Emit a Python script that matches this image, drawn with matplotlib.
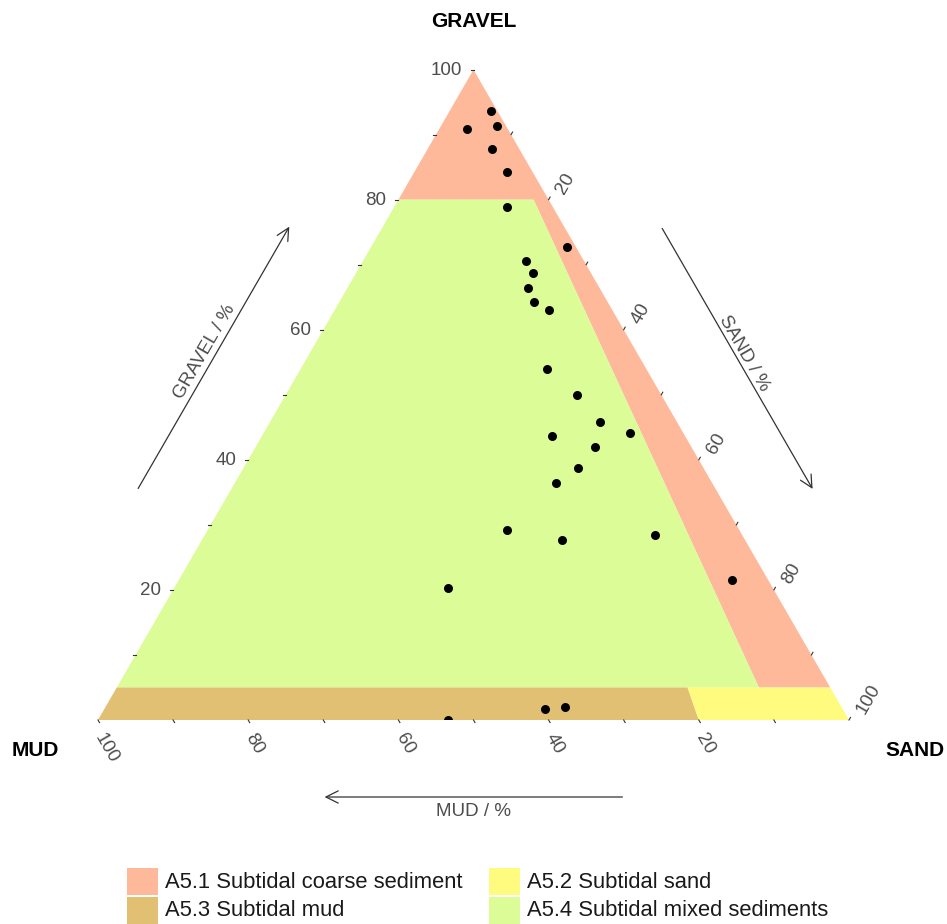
import numpy as np
import matplotlib
matplotlib.use("Agg")
import matplotlib.pyplot as plt
from matplotlib.patches import Polygon, Rectangle

plt.rcParams['font.family'] = ['Liberation Sans', 'DejaVu Sans']

# sample composition (%)
gravel = [93.7, 90.8, 91.3, 87.8, 84.2, 78.8, 72.7, 70.5, 68.7, 66.4, 64.2, 63.0, 54.0, 49.9,
          45.8, 43.7, 44.2, 41.9, 38.7, 36.4, 29.2, 27.7, 28.5, 20.3, 21.6, 0.0, 1.7, 2.0]
sand = [5.5, 3.8, 7.5, 8.6, 12.4, 15.1, 26.1, 21.7, 23.6, 24.0, 25.9, 28.5, 32.8, 38.8,
        44.0, 38.6, 48.7, 45.2, 44.6, 42.8, 39.9, 47.9, 59.9, 36.4, 73.6, 46.6, 58.7, 61.2]
mud = [100 - g - s for g, s in zip(gravel, sand)]

# class boundaries
gravel_coarse = 80     # above: coarse sediment
gravel_min = 5         # below: sand / mud
mud_ratio_coarse = 0.1 # mud share of (mud+sand) for coarse band
mud_ratio_sand = 0.2   # mud share of (mud+sand) splitting sand / mud

classes = ["A5.1 Subtidal coarse sediment", "A5.2 Subtidal sand",
           "A5.3 Subtidal mud", "A5.4 Subtidal mixed sediments"]
colours = ["#FEB99A", "#FEFB7F", "#E2C073", "#DBFC97"]

H = np.sqrt(3) / 2
PX = 751.0  # pixels per triangle side


def tern(g, s, m):
    g = np.asarray(g, float); s = np.asarray(s, float); m = np.asarray(m, float)
    tot = g + s + m
    return s / tot + 0.5 * g / tot, H * g / tot


def split(g, ratio):
    # point with given gravel and mud:(mud+sand) ratio
    rest = 100 - g
    return (g, rest * (1 - ratio), rest * ratio)


fig = plt.figure(figsize=(9.47, 9.24), dpi=100)
ax = fig.add_axes([0, 0, 1, 1])
ax.set_xlim(-98 / PX, (947 - 98) / PX)
ax.set_ylim(-204 / PX, 720 / PX)
ax.axis('off')

regions = {
    0: [(100, 0, 0), split(gravel_coarse, 1), split(gravel_coarse, mud_ratio_coarse),
        split(gravel_min, mud_ratio_coarse), split(gravel_min, 0)],
    3: [split(gravel_coarse, 1), split(gravel_coarse, mud_ratio_coarse),
        split(gravel_min, mud_ratio_coarse), split(gravel_min, 1)],
    2: [split(gravel_min, 1), split(gravel_min, mud_ratio_sand),
        split(0, mud_ratio_sand), (0, 0, 100)],
    1: [split(gravel_min, mud_ratio_sand), split(gravel_min, 0),
        (0, 100, 0), split(0, mud_ratio_sand)],
}
for k, pts in regions.items():
    g, s, m = zip(*pts)
    x, y = tern(g, s, m)
    ax.add_patch(Polygon(np.column_stack([x, y]), closed=True, fc=colours[k], ec='none'))

# points, clipped to triangle
tx, ty = tern([100, 0, 0], [0, 100, 0], [0, 0, 100])
tri = Polygon(np.column_stack([tx, ty]), closed=True, fc='none', ec='none')
ax.add_patch(tri)
x, y = tern(gravel, sand, mud)
sc = ax.scatter(x, y, s=42, c='black', zorder=5, linewidths=0)
sc.set_clip_path(tri)

# ticks and tick labels
tick_col = '#333333'
lab_col = '#4D4D4D'
tl = 3 / PX
for v in range(10, 101, 10):
    # gravel (left edge)
    x0, y0 = tern(v, 0, 100 - v)
    ax.plot([x0, x0 - tl], [y0, y0], color=tick_col, lw=0.8)
    # sand (right edge)
    x1, y1 = tern(100 - v, v, 0)
    ax.plot([x1, x1 + tl * 0.5], [y1, y1 + tl * H], color=tick_col, lw=0.8)
    # mud (bottom edge)
    x2, y2 = tern(0, 100 - v, v)
    ax.plot([x2, x2 + tl * 0.5], [y2, y2 - tl * H], color=tick_col, lw=0.8)
    if v % 20 == 0:
        ax.text(x0 - 12 / PX, y0 - 1 / PX, str(v), ha='right', va='center',
                fontsize=13.5, color=lab_col)
        ax.text(x1 + 12 / PX, y1 + 7 / PX, str(v), ha='left', va='center',
                rotation=60, rotation_mode='anchor', fontsize=13.5, color=lab_col)
        ax.text(x2 + 1 / PX, y2 - 15 / PX, str(v), ha='left', va='center',
                rotation=-60, rotation_mode='anchor', fontsize=13.5, color=lab_col)

# vertex labels
ax.text(0.5, H + 48 / PX, "GRAVEL", ha='center', va='center', fontsize=15,
        fontweight='bold')
ax.text(-63 / PX, -30 / PX, "MUD", ha='center', va='center', fontsize=15,
        fontweight='bold')
ax.text(1 + 66 / PX, -30 / PX, "SAND", ha='center', va='center', fontsize=15,
        fontweight='bold')

# axis arrows
arr = dict(arrowstyle='->', color='#333333', lw=0.9, mutation_scale=22)
# gravel: along left edge, outward
nl = np.array([-H, 0.5])
a0 = np.array(tern(29, 0, 71)) + nl * 81 / PX
a1 = np.array(tern(70, 0, 30)) + nl * 81 / PX
ax.annotate("", xy=a1, xytext=a0, arrowprops=arr)
c = np.array(tern(49.6, 0, 50.4)) + nl * 92 / PX
ax.text(c[0], c[1], "GRAVEL / %", rotation=60, ha='center', va='center',
        fontsize=13.5, color=lab_col, rotation_mode='anchor')
# sand: along right edge, outward
nr = np.array([H, 0.5])
a0 = np.array(tern(69.5, 30.5, 0)) + nr * 84 / PX
a1 = np.array(tern(28.7, 71.3, 0)) + nr * 84 / PX
ax.annotate("", xy=a1, xytext=a0, arrowprops=arr)
c = np.array(tern(49.3, 50.7, 0)) + nr * 92 / PX
ax.text(c[0], c[1], "SAND / %", rotation=-60, ha='center', va='center',
        fontsize=13.5, color=lab_col, rotation_mode='anchor')
# mud: along bottom
a0 = np.array(tern(0, 70.2, 29.8)) + np.array([0, -77 / PX])
a1 = np.array(tern(0, 29.8, 70.2)) + np.array([0, -77 / PX])
ax.annotate("", xy=a1, xytext=a0, arrowprops=arr)
ax.text(0.5, -92 / PX, "MUD / %", ha='center', va='center', fontsize=13.5,
        color=lab_col)

# legend (figure pixels)
def fx(px):
    return px / 947.0


def fy(py):
    return 1 - py / 924.0


order = [0, 1, 2, 3]
for i, k in enumerate(order):
    col = i % 2
    row = i // 2
    sx = [127, 489][col]
    cy = [882, 911][row]
    fig.patches.append(Rectangle((fx(sx), fy(cy + 13)), fx(31), 27 / 924.0,
                                 transform=fig.transFigure, fc=colours[k], ec='none'))
    fig.text(fx(sx + 38), fy(cy), classes[k], ha='left', va='center',
             fontsize=15.8, color='#1A1A1A')

fig.savefig("out.png", dpi=100)
